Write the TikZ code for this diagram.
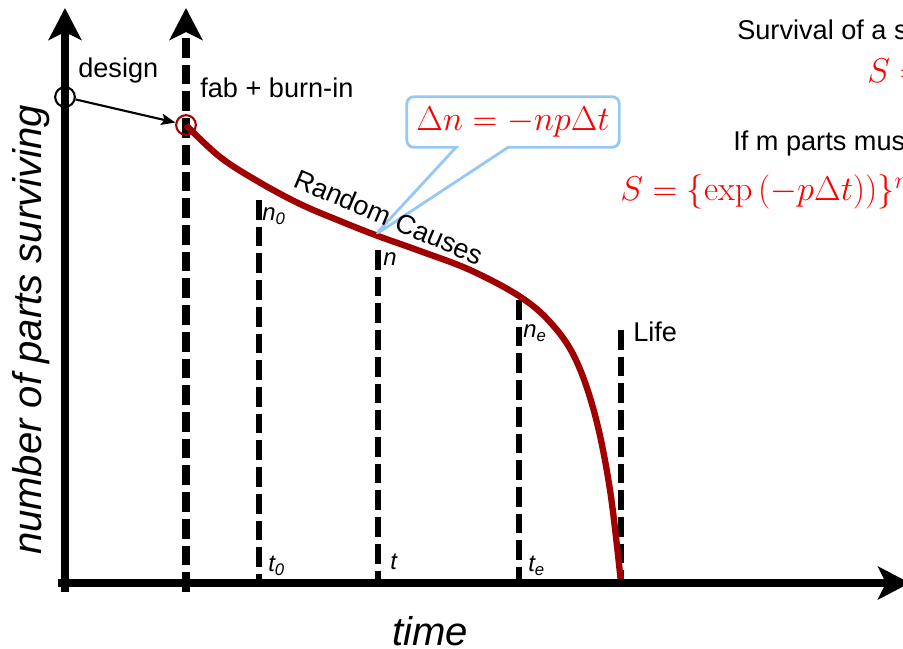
\RequirePackage{fix-cm}
\documentclass[tikz,border=0pt]{standalone}
\usepackage[no-math]{fontspec}
\setmainfont{Liberation Sans}
\usetikzlibrary{arrows.meta, shapes.callouts}
\definecolor{curvered}{RGB}{160,0,0}
\definecolor{calloutblue}{RGB}{150,200,245}

\begin{document}
\begin{tikzpicture}[x=0.025cm, y=-0.025cm,
    axis/.style={line width=5pt, -{Stealth[length=0.8cm, width=0.82cm, inset=0.2cm]}},
    dashline/.style={line width=4.8pt, dash pattern=on 14pt off 5pt},
    lbl/.style={font=\fontsize{19.3}{22}\selectfont, inner sep=0pt},
    sym/.style={font=\fontsize{17}{20}\selectfont\itshape, inner sep=0pt},
    big/.style={font=\fontsize{28.5}{32}\selectfont\itshape, inner sep=0pt},
    eq/.style={font=\fontsize{24.5}{28}\selectfont, text=red, inner sep=0pt},
    mark circle/.style={circle, line width=1.5pt, minimum size=14pt, inner sep=0pt}]
    \useasboundingbox (0,0) rectangle (903,649);
    \clip (0,0) rectangle (903,649);

    % time markers
    \foreach \name/\x/\top in {t0/259/200, t/378/250, te/519/300, life/621/330} {
        \coordinate (\name top) at (\x,\top);
        \coordinate (\name bot) at (\x,583);
        \draw[dashline] (\name top) -- (\name bot);
    }

    % axes
    \coordinate (ybot) at (65,592);
    \coordinate (ytop) at (65,8);
    \coordinate (fbot) at (186,592);
    \coordinate (ftop) at (186,8);
    \coordinate (xleft) at (58,583);
    \coordinate (xright) at (910,583);
    \draw[axis, dash pattern=on 14pt off 5pt] (fbot) -- (ftop);
    \draw[axis] (ybot) -- (ytop);

    \node[mark circle, draw] (design) at (65,97) {};
    \node[mark circle, draw=curvered] (fab) at (186,125) {};

    % survival curve
    \draw[curvered, line width=4.5pt] plot[smooth, tension=0.6] coordinates {
        (fab) (220,157) (259,182) (300,204) (340,221) (378,236) (420,251)
        (470,270) (519,296) (550,322) (575,358) (595,415) (610,490) (621,583)};
    \draw[axis] (xleft) -- (xright);

    \draw[line width=1.5pt, -{Stealth[length=10pt, width=8pt, inset=2pt]}] (design) -- (fab);

    % callout
    \coordinate (pick) at (375,235);
    \node[rectangle callout, draw=calloutblue, line width=2pt,
          rounded corners=5pt, minimum width=151pt, minimum height=36pt,
          callout absolute pointer={(pick)}, callout pointer width=37pt,
          eq] (dn) at (513,122) {$\Delta n = -np\Delta t$};

    \node[lbl, anchor=base west] (designlbl) at (78,78) {design};
    \node[lbl, anchor=base west] (fablbl) at (200,98) {fab + burn-in};
    \node[lbl, rotate=-23] (random) at (389,217) {Random Causes};
    \node[lbl, anchor=base west] (lifelbl) at (633,342) {Life};

    \node[sym, anchor=base west] (n0) at (262,221) {n\textsubscript{0}};
    \node[sym, anchor=base west] (n) at (383,266) {n};
    \node[sym, anchor=base west] (ne) at (523,338) {n\textsubscript{e}};
    \node[sym, anchor=base west] (t0) at (268,572) {t\textsubscript{0}};
    \node[sym, anchor=base west] (t) at (390,569) {t};
    \node[sym, anchor=base west] (te) at (528,572) {t\textsubscript{e}};

    \node[big, anchor=base] (ylabel) at (41,330) [rotate=90] {number of parts surviving};
    \node[big, anchor=base] (xlabel) at (430,645) {time};

    % survival formulas
    \node[lbl, anchor=base west] (single) at (737,40) {Survival of a single part};
    \node[eq, anchor=base west] (sone) at (867,83) {$S = \exp\left(-p\Delta t\right)$};
    \node[lbl, anchor=base west] (mparts) at (733,151) {If m parts must survive};
    \node[eq, anchor=base west] (sm) at (620,201) {$S = \{\exp\left(-p\Delta t)\right)\}^m$};
\end{tikzpicture}
\end{document}
